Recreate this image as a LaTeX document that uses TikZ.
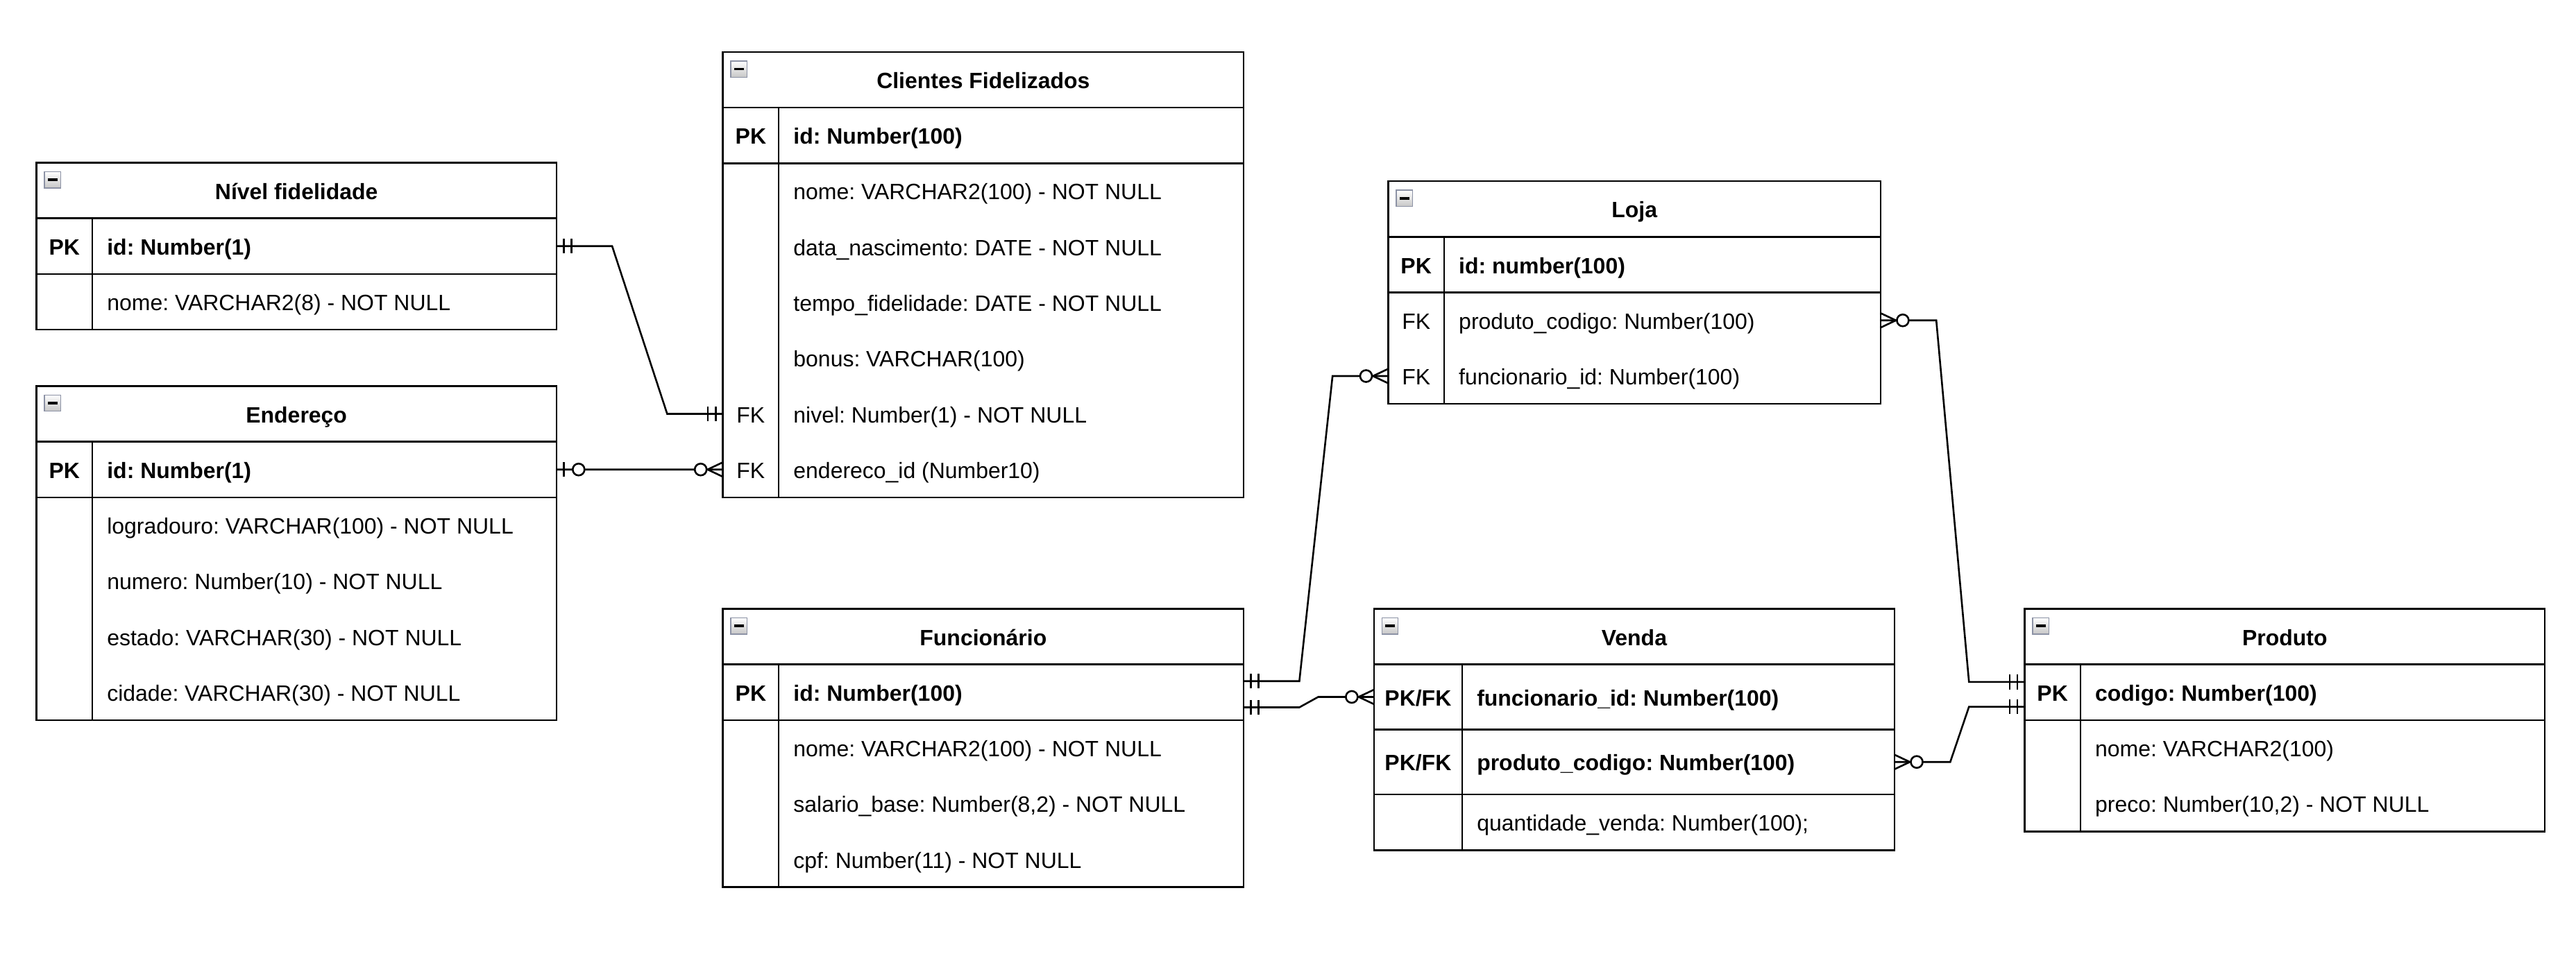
\documentclass[tikz,border=0pt]{standalone}
\usepackage{fontspec}
\setmainfont{Liberation Sans}
\usetikzlibrary{calc,positioning}

\newcommand{\erfont}{\fontsize{13.5pt}{16pt}\selectfont\frenchspacing}

\tikzset{
    tabhead/.style={draw, line width=1.1pt, anchor=north west, outer sep=0pt, inner sep=0pt,
        minimum height=33.9pt, font=\erfont\bfseries, text height=10.6pt, text depth=0pt},
    tabsec/.style={draw, line width=1.1pt, anchor=north west, outer sep=0pt, inner sep=0pt},
    keytxt/.style={inner sep=0pt, font=\erfont, text height=10.6pt, text depth=0pt},
    fldtxt/.style={anchor=west, inner sep=0pt, font=\erfont, text height=10.6pt, text depth=0pt},
    boldtxt/.style={font=\erfont\bfseries},
    minbtn/.style={draw={rgb,255:red,140;green,146;blue,165}, line width=0.6pt,
        top color=white, bottom color=black!22, minimum size=9.9pt, inner sep=0pt,
        path picture={\fill ([xshift=-3pt,yshift=-0.7pt]path picture bounding box.center)
            rectangle ([xshift=3pt,yshift=0.7pt]path picture bounding box.center);}},
    rel/.style={line width=1.1pt},
    mandone/.pic={\draw[rel] (4.4,-4.5) -- (4.4,4.5) (9.1,-4.5) -- (9.1,4.5);},
    zeroone/.pic={\draw[rel] (4.4,-4.5) -- (4.4,4.5); \draw[rel, fill=white] (13.5,0) circle (3.6);},
    zeromany/.pic={\draw[rel] (0,-4.4) -- (9.3,0) -- (0,4.4); \draw[rel, fill=white] (13.5,0) circle (3.6);}
}

\begin{document}
\begin{tikzpicture}[x=1pt, y=-1pt]
    \useasboundingbox (0,0) rectangle (1568,580.4);

    % Nivel fidelidade
    \node[tabhead, minimum width=316.5pt] (niv) at (22.2,99) {Nível fidelidade};
    \node[tabsec, minimum width=316.5pt, minimum height=33.9pt] (niv-pk) at (niv.south west) {};
    \node[tabsec, minimum width=316.5pt, minimum height=33.9pt] (niv-body) at (niv-pk.south west) {};
    \draw[rel] (56.2,132.9) -- (56.2,200.7);
    \node[minbtn] (niv-btn) at (32,109.45) {};
    \node[keytxt, boldtxt] (niv-pkk) at (39.2,149.85) {PK};
    \node[fldtxt, boldtxt] (niv-id) at (65,149.85) {id: Number(1)};
    \node[fldtxt] (niv-nome) at (65,183.75) {nome: VARCHAR2(8) - NOT NULL};

    % Endereco
    \node[tabhead, minimum width=316.5pt] (endr) at (22.2,235) {Endereço};
    \node[tabsec, minimum width=316.5pt, minimum height=33.9pt] (endr-pk) at (endr.south west) {};
    \node[tabsec, minimum width=316.5pt, minimum height=135.6pt] (endr-body) at (endr-pk.south west) {};
    \draw[rel] (56.2,268.9) -- (56.2,438.4);
    \node[minbtn] (endr-btn) at (32,245.45) {};
    \node[keytxt, boldtxt] (endr-pkk) at (39.2,285.85) {PK};
    \node[fldtxt, boldtxt] (endr-id) at (65,285.85) {id: Number(1)};
    \node[fldtxt] (endr-logr) at (65,319.75) {logradouro: VARCHAR(100) - NOT NULL};
    \node[fldtxt] (endr-num) at (65,353.65) {numero: Number(10) - NOT NULL};
    \node[fldtxt] (endr-est) at (65,387.55) {estado: VARCHAR(30) - NOT NULL};
    \node[fldtxt] (endr-cid) at (65,421.45) {cidade: VARCHAR(30) - NOT NULL};

    % Clientes Fidelizados
    \node[tabhead, minimum width=317pt] (cli) at (440,31.6) {Clientes Fidelizados};
    \node[tabsec, minimum width=317pt, minimum height=33.9pt] (cli-pk) at (cli.south west) {};
    \node[tabsec, minimum width=317pt, minimum height=203.4pt] (cli-body) at (cli-pk.south west) {};
    \draw[rel] (474,65.5) -- (474,302.8);
    \node[minbtn] (cli-btn) at (449.8,42.05) {};
    \node[keytxt, boldtxt] (cli-pkk) at (457,82.45) {PK};
    \node[fldtxt, boldtxt] (cli-id) at (482.8,82.45) {id: Number(100)};
    \node[fldtxt] (cli-nome) at (482.8,116.35) {nome: VARCHAR2(100) - NOT NULL};
    \node[fldtxt] (cli-nasc) at (482.8,150.25) {data\_nascimento: DATE - NOT NULL};
    \node[fldtxt] (cli-tempo) at (482.8,184.15) {tempo\_fidelidade: DATE - NOT NULL};
    \node[fldtxt] (cli-bonus) at (482.8,218.05) {bonus: VARCHAR(100)};
    \node[keytxt] (cli-fk1) at (457,251.95) {FK};
    \node[fldtxt] (cli-nivel) at (482.8,251.95) {nivel: Number(1) - NOT NULL};
    \node[keytxt] (cli-fk2) at (457,285.85) {FK};
    \node[fldtxt] (cli-endid) at (482.8,285.85) {endereco\_id (Number10)};

    % Loja
    \node[tabhead, minimum width=299.7pt] (loja) at (845,110.3) {Loja};
    \node[tabsec, minimum width=299.7pt, minimum height=33.9pt] (loja-pk) at (loja.south west) {};
    \node[tabsec, minimum width=299.7pt, minimum height=67.8pt] (loja-body) at (loja-pk.south west) {};
    \draw[rel] (879,144.2) -- (879,246);
    \node[minbtn] (loja-btn) at (854.8,120.75) {};
    \node[keytxt, boldtxt] (loja-pkk) at (862,161.15) {PK};
    \node[fldtxt, boldtxt] (loja-id) at (887.8,161.15) {id: number(100)};
    \node[keytxt] (loja-fk1) at (862,195.05) {FK};
    \node[fldtxt] (loja-pcod) at (887.8,195.05) {produto\_codigo: Number(100)};
    \node[keytxt] (loja-fk2) at (862,228.95) {FK};
    \node[fldtxt] (loja-fid) at (887.8,228.95) {funcionario\_id: Number(100)};

    % Funcionario
    \node[tabhead, minimum width=317pt] (fun) at (440,370.6) {Funcionário};
    \node[tabsec, minimum width=317pt, minimum height=33.9pt] (fun-pk) at (fun.south west) {};
    \node[tabsec, minimum width=317pt, minimum height=101.7pt] (fun-body) at (fun-pk.south west) {};
    \draw[rel] (474,404.5) -- (474,540.1);
    \node[minbtn] (fun-btn) at (449.8,381.05) {};
    \node[keytxt, boldtxt] (fun-pkk) at (457,421.45) {PK};
    \node[fldtxt, boldtxt] (fun-id) at (482.8,421.45) {id: Number(100)};
    \node[fldtxt] (fun-nome) at (482.8,455.35) {nome: VARCHAR2(100) - NOT NULL};
    \node[fldtxt] (fun-sal) at (482.8,489.25) {salario\_base: Number(8,2) - NOT NULL};
    \node[fldtxt] (fun-cpf) at (482.8,523.15) {cpf: Number(11) - NOT NULL};

    % Venda
    \node[tabhead, minimum width=316.9pt] (ven) at (836.3,370.6) {Venda};
    \node[tabsec, minimum width=316.9pt, minimum height=39.6pt] (ven-r1) at (ven.south west) {};
    \node[tabsec, minimum width=316.9pt, minimum height=39.6pt] (ven-r2) at (ven-r1.south west) {};
    \node[tabsec, minimum width=316.9pt, minimum height=33.9pt] (ven-r3) at (ven-r2.south west) {};
    \draw[rel] (890,404.5) -- (890,517.6);
    \node[minbtn] (ven-btn) at (846.1,381.05) {};
    \node[keytxt, boldtxt] (ven-k1) at (863.15,424.3) {PK/FK};
    \node[fldtxt, boldtxt] (ven-fid) at (898.8,424.3) {funcionario\_id: Number(100)};
    \node[keytxt, boldtxt] (ven-k2) at (863.15,463.9) {PK/FK};
    \node[fldtxt, boldtxt] (ven-pcod) at (898.8,463.9) {produto\_codigo: Number(100)};
    \node[fldtxt] (ven-qtd) at (898.8,500.65) {quantidade\_venda: Number(100);};

    % Produto
    \node[tabhead, minimum width=316.6pt] (pro) at (1232.4,370.6) {Produto};
    \node[tabsec, minimum width=316.6pt, minimum height=33.9pt] (pro-pk) at (pro.south west) {};
    \node[tabsec, minimum width=316.6pt, minimum height=67.8pt] (pro-body) at (pro-pk.south west) {};
    \draw[rel] (1266.3,404.5) -- (1266.3,506.2);
    \node[minbtn] (pro-btn) at (1242.2,381.05) {};
    \node[keytxt, boldtxt] (pro-pkk) at (1249.35,421.45) {PK};
    \node[fldtxt, boldtxt] (pro-cod) at (1275.1,421.45) {codigo: Number(100)};
    \node[fldtxt] (pro-nome) at (1275.1,455.35) {nome: VARCHAR2(100)};
    \node[fldtxt] (pro-preco) at (1275.1,489.25) {preco: Number(10,2) - NOT NULL};

    % ends of the relationships
    \coordinate (p-niv) at (niv-pk.east);
    \coordinate (p-cli-nivel) at (cli-nivel -| cli-body.west);
    \coordinate (p-endr) at (endr-pk.east);
    \coordinate (p-cli-end) at (cli-endid -| cli-body.west);
    \coordinate (p-fun-loja) at ([yshift=6.75pt]fun-pk.east);
    \coordinate (p-fun-ven) at ([yshift=-9.2pt]fun-pk.east);
    \coordinate (p-loja-fid) at (loja-fid -| loja-body.west);
    \coordinate (p-loja-pcod) at (loja-pcod -| loja-body.east);
    \coordinate (p-ven-fid) at (ven-r1.west);
    \coordinate (p-ven-pcod) at (ven-r2.east);
    \coordinate (p-pro-loja) at ([yshift=6.25pt]pro-pk.west);
    \coordinate (p-pro-ven) at ([yshift=-8.85pt]pro-pk.west);

    \draw[rel] (p-niv) -- ++(33.9,0) -- ([xshift=-33.9pt]p-cli-nivel) -- (p-cli-nivel);
    \draw[rel] (p-endr) -- (p-cli-end);
    \draw[rel] (p-fun-loja) -- ++(33.9,0) -- ([xshift=-33.9pt]p-loja-fid) -- (p-loja-fid);
    \draw[rel] (p-fun-ven) -- ++(33.9,0) -- ([xshift=-33.9pt]p-ven-fid) -- (p-ven-fid);
    \draw[rel] (p-loja-pcod) -- ++(33.9,0) -- ([xshift=-33.9pt]p-pro-loja) -- (p-pro-loja);
    \draw[rel] (p-ven-pcod) -- ++(33.9,0) -- ([xshift=-33.9pt]p-pro-ven) -- (p-pro-ven);

    \path (p-niv) pic {mandone} (p-cli-nivel) pic[xscale=-1] {mandone};
    \path (p-endr) pic {zeroone} (p-cli-end) pic[xscale=-1] {zeromany};
    \path (p-fun-loja) pic {mandone} (p-loja-fid) pic[xscale=-1] {zeromany};
    \path (p-fun-ven) pic {mandone} (p-ven-fid) pic[xscale=-1] {zeromany};
    \path (p-loja-pcod) pic {zeromany} (p-pro-loja) pic[xscale=-1] {mandone};
    \path (p-ven-pcod) pic {zeromany} (p-pro-ven) pic[xscale=-1] {mandone};
\end{tikzpicture}
\end{document}
